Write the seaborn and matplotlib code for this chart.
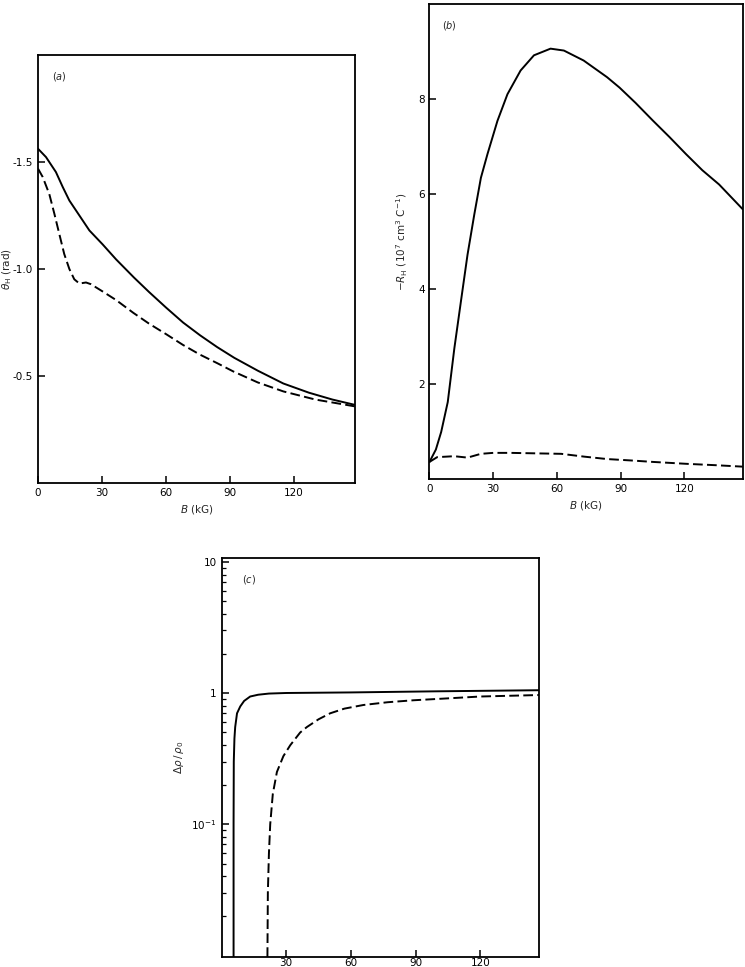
import matplotlib
matplotlib.use("Agg")
import matplotlib.pyplot as plt
import matplotlib.ticker as mticker
import pandas as pd
import seaborn as sns

# (a) Hall angle vs field
A_SOLID_B = [0, 3.75, 8.4, 11.6, 14.7, 19.4, 24.1, 30.3, 36.6, 45, 52, 60, 68, 76, 84, 92, 103, 115,
             127, 138, 148.6]
A_SOLID_V = [-1.562, -1.523, -1.453, -1.383, -1.32, -1.25, -1.18, -1.115, -1.045, -0.96, -0.893, -0.82,
             -0.75, -0.69, -0.635, -0.585, -0.525, -0.465, -0.422, -0.39, -0.365]
A_DASH_B = [0, 2.2, 5.3, 7.7, 10, 12.3, 14.7, 17, 19.4, 22.5, 24.8, 30.3, 36.6, 44.7, 52, 60.3, 68,
            75.9, 84, 91.6, 103, 115, 130, 148.6]
A_DASH_V = [-1.469, -1.43, -1.35, -1.257, -1.163, -1.07, -1.0, -0.952, -0.932, -0.937, -0.929, -0.895,
            -0.855, -0.795, -0.745, -0.694, -0.645, -0.600, -0.56, -0.521, -0.47, -0.428, -0.39,
            -0.358]

# (b) Hall coefficient vs field
B_SOLID_B = [0, 3, 5.5, 8.6, 11.7, 14.8, 17.9, 21.1, 24.2, 27.3, 32, 36.7, 42.9, 49.2, 57, 63.3, 72.6,
             83.6, 89.5, 97, 105.1, 113, 120.8, 128.5, 136.4, 147.5]
B_SOLID_V = [0.36, 0.62, 0.99, 1.62, 2.75, 3.74, 4.72, 5.57, 6.34, 6.84, 7.54, 8.1, 8.6, 8.92, 9.06,
             9.02, 8.81, 8.46, 8.24, 7.92, 7.55, 7.2, 6.84, 6.5, 6.2, 5.68]
B_DASH_B = [0, 3.6, 11.7, 17.9, 24.2, 30, 38.3, 50, 62, 73, 83.6, 95, 105.1, 120.8, 135, 147.5]
B_DASH_V = [0.36, 0.46, 0.48, 0.45, 0.53, 0.55, 0.55, 0.54, 0.53, 0.47, 0.42, 0.39, 0.36, 0.32, 0.29,
            0.26]

# (c) magnetoresistance vs field
C_SOLID_B = [5.6, 5.6, 5.7, 6.0, 6.35, 7.2, 8.7, 10.5, 13.3, 17, 22, 30, 60, 100, 147.5]
C_SOLID_V = [0.0097, 0.1, 0.3, 0.45, 0.55, 0.7, 0.79, 0.87, 0.94, 0.97, 0.99, 1.0, 1.01, 1.03, 1.05]
C_DASH_B = [21.3, 21.5, 22, 22.6, 23.8, 25.7, 28.7, 31.9, 36.5, 39.6, 45, 50.4, 57, 65.8, 77, 89,
            105, 120, 147.4]
C_DASH_V = [0.0097, 0.03, 0.06, 0.10, 0.17, 0.25, 0.33, 0.40, 0.50, 0.55, 0.63, 0.70, 0.76, 0.81,
            0.85, 0.88, 0.91, 0.94, 0.965]

X_TICKS = [0, 30, 60, 90, 120]
A_YTICKS = [-1.5, -1.0, -0.5]
A_YLABELS = ["-1.5", "-1.0", "-0.5"]
B_YTICKS = [2, 4, 6, 8]
C_XTICKS = [30, 60, 90, 120]
C_YTICKS = [0.1, 1, 10]
C_YLABELS = ["10$^{-1}$", "1", "10"]

sns.set_theme(style="ticks")
plt.rcParams.update({
    "font.family": ["DejaVu Sans"],
    "mathtext.fontset": "dejavusans",
    "font.size": 7.5,
    "axes.linewidth": 1.3,
    "xtick.direction": "in",
    "ytick.direction": "in",
    "xtick.major.size": 5,
    "ytick.major.size": 5,
    "xtick.major.width": 1.1,
    "ytick.major.width": 1.1,
    "ytick.minor.size": 3,
    "ytick.minor.width": 0.9,
    "xtick.labelsize": 7.5,
    "ytick.labelsize": 7.5,
    "axes.labelsize": 7.5,
    "axes.edgecolor": "black",
    "xtick.color": "black",
    "ytick.color": "black",
})

W, H = 745, 967
fig = plt.figure(figsize=(W / 100, H / 100), dpi=100)


def px_axes(left, top, right, bottom):
    return fig.add_axes([left / W, 1 - bottom / H, (right - left) / W, (bottom - top) / H])


def draw(ax, xb, yv, dashed=False):
    df = pd.DataFrame({"B": xb, "v": yv})
    line = sns.lineplot(data=df, x="B", y="v", ax=ax, color="black", lw=1.4,
                        estimator=None, sort=False)
    if dashed:
        line.lines[-1].set_dashes((5, 2.2))


# panel (a)
ax_a = px_axes(38, 55, 355, 483)
draw(ax_a, A_SOLID_B, A_SOLID_V)
draw(ax_a, A_DASH_B, A_DASH_V, dashed=True)
ax_a.set_xlim(0, 148.6)
ax_a.set_ylim(0, -2.0)
ax_a.set_xticks(X_TICKS)
ax_a.set_yticks(A_YTICKS)
ax_a.set_yticklabels(A_YLABELS)
ax_a.set_xlabel("$B$ (kG)", labelpad=4)
ax_a.set_ylabel(r"$\theta_{\mathrm{H}}$ (rad)")
ax_a.yaxis.set_label_coords(-24 / 317, 0.5)
ax_a.text(0.045, 0.95, "($a$)", transform=ax_a.transAxes, fontsize=7, va="center")

# panel (b)
ax_b = px_axes(429.5, 4, 742.7, 479)
draw(ax_b, B_SOLID_B, B_SOLID_V)
draw(ax_b, B_DASH_B, B_DASH_V, dashed=True)
ax_b.set_xlim(0, 147.5)
ax_b.set_ylim(0, 10)
ax_b.set_xticks(X_TICKS)
ax_b.set_yticks(B_YTICKS)
ax_b.set_xlabel("$B$ (kG)", labelpad=4)
ax_b.set_ylabel(r"$-R_{\mathrm{H}}$ (10$^{7}$ cm$^{3}$ C$^{-1}$)", labelpad=6)
ax_b.text(0.04, 0.955, "($b$)", transform=ax_b.transAxes, fontsize=7, va="center")

# panel (c)
ax_c = px_axes(221.5, 558, 539.3, 957)
draw(ax_c, C_SOLID_B, C_SOLID_V)
draw(ax_c, C_DASH_B, C_DASH_V, dashed=True)
ax_c.set_yscale("log")
ax_c.set_xlim(0, 147.4)
ax_c.set_ylim(0.0097, 10.7)
ax_c.set_xticks(C_XTICKS)
ax_c.tick_params(axis="x", pad=1)
ax_c.yaxis.set_major_locator(mticker.FixedLocator(C_YTICKS))
ax_c.yaxis.set_major_formatter(mticker.FixedFormatter(C_YLABELS))
ax_c.yaxis.set_minor_locator(mticker.LogLocator(base=10, subs=range(2, 10)))
ax_c.yaxis.set_minor_formatter(mticker.NullFormatter())
ax_c.set_xlabel("")
ax_c.set_ylabel(r"$\Delta\rho\,/\,\rho_0$", labelpad=4)
ax_c.text(0.065, 0.945, "($c$)", transform=ax_c.transAxes, fontsize=7, va="center")

for ax in (ax_a, ax_b, ax_c):
    for side in ("top", "right"):
        ax.spines[side].set_visible(True)
    ax.tick_params(top=False, right=False)

fig.savefig("out.png", dpi=100)
